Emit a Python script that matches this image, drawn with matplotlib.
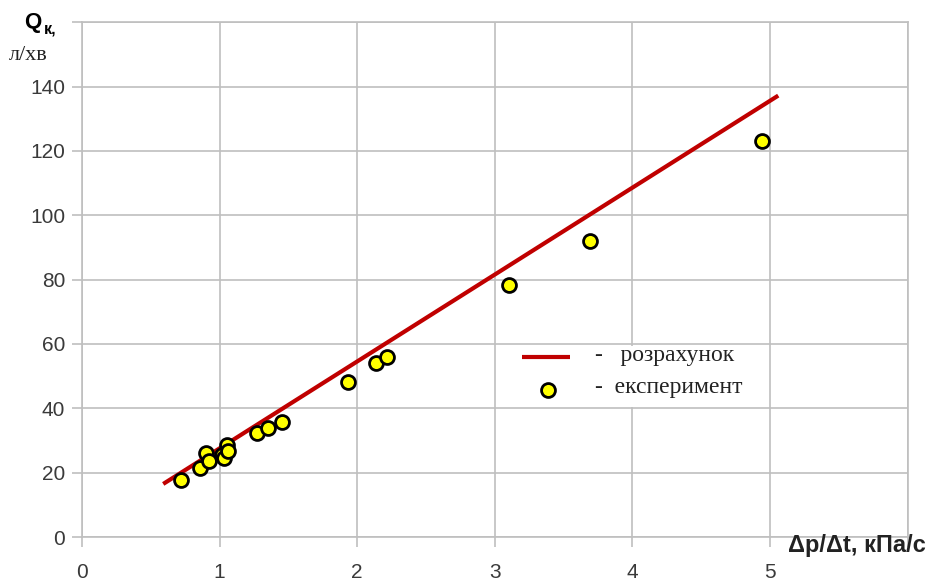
import matplotlib.pyplot as plt
from matplotlib.patches import Rectangle

# calculated line (endpoints)
calc_x = [0.59, 5.06]
calc_y = [16.5, 137.2]

# experimental points
exp_x = [0.72, 0.86, 0.90, 0.92, 1.02, 1.03, 1.05, 1.06, 1.27, 1.35, 1.45,
         1.93, 2.14, 2.22, 3.10, 3.69, 4.94]
exp_y = [17.7, 21.5, 26.1, 23.6, 25.5, 24.6, 28.6, 26.8, 32.4, 33.9, 35.8,
         48.2, 54.1, 56.0, 78.4, 92.1, 123.2]

xticks = [0, 1, 2, 3, 4, 5]
yticks = [0, 20, 40, 60, 80, 100, 120, 140]

grid_c = "#bfbfbf"
tick_font = "Liberation Sans"
serif = "Liberation Serif"

fig = plt.figure(figsize=(9.28, 5.85), dpi=100)
ax = fig.add_axes([0.0884, 0.082, 0.8896, 0.880])

ax.set_xlim(0, 6)
ax.set_ylim(0, 160)
ax.set_xticks(range(0, 7))
ax.set_yticks(range(0, 161, 20))
ax.set_xticklabels([str(t) for t in xticks] + [""])
ax.set_yticklabels([str(t) for t in yticks] + [""])
ax.grid(True, color=grid_c, linewidth=1.2)
ax.set_axisbelow(True)
for s in ax.spines.values():
    s.set_color(grid_c)
    s.set_linewidth(1.2)
ax.tick_params(axis="both", color=grid_c, length=7, width=1.2, direction="out",
               labelsize=15, labelcolor="#3a3a3a")
ax.tick_params(axis="x", pad=12)
ax.tick_params(axis="y", pad=5)
for lab in ax.get_xticklabels() + ax.get_yticklabels():
    lab.set_fontfamily(tick_font)

# white legend box hides the grid between 40 and 60
ax.add_patch(Rectangle((3.03, 40.5), 1.93, 19.0, facecolor="white", edgecolor="none", zorder=1))

ax.plot(calc_x, calc_y, color="#c00000", linewidth=3, solid_capstyle="butt", zorder=3)
ax.plot(exp_x, exp_y, linestyle="none", marker="o", markersize=10,
        markerfacecolor="#ffff00", markeredgecolor="black", markeredgewidth=2, zorder=4)

# legend drawn by hand
ax.plot([3.2, 3.55], [56.0, 56.0], color="#c00000", linewidth=3, solid_capstyle="butt")
ax.plot([3.39], [45.7], linestyle="none", marker="o", markersize=10,
        markerfacecolor="#ffff00", markeredgecolor="black", markeredgewidth=2)
ax.text(3.73, 56.5, "-   розрахунок", fontsize=17, family=serif, va="center", color="#222222")
ax.text(3.73, 46.6, "-  експеримент", fontsize=17, family=serif, va="center", color="#222222")

# axis titles
fig.text(0.026, 0.962, "Q", fontsize=16, fontweight="bold", family=tick_font, va="center")
fig.text(0.047, 0.950, "к,", fontsize=11.5, fontweight="bold", family=tick_font, va="center")
fig.text(0.010, 0.905, "л/хв", fontsize=16, family=serif, va="center", color="#222222")
fig.text(0.849, 0.068, "Δp/Δt, кПа/с", fontsize=17, fontweight="bold",
         family=tick_font, va="center", color="#222222")

plt.savefig("out.png", dpi=100, facecolor="white")
plt.close()
